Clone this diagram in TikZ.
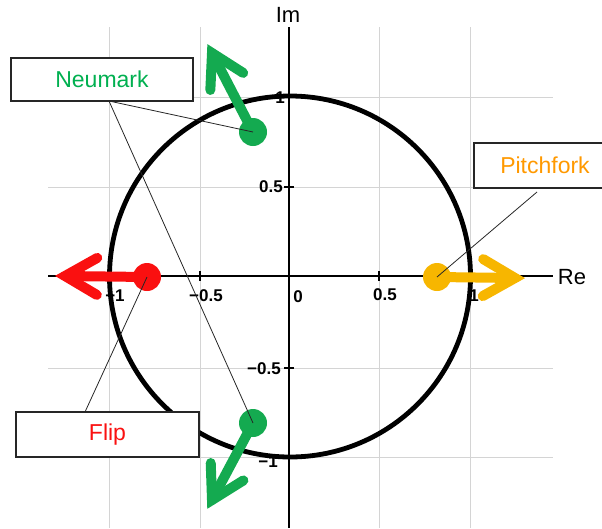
\documentclass[tikz,border=0pt]{standalone}
\usepackage{fontspec}
\setmainfont{Liberation Sans}
\usetikzlibrary{calc}
\definecolor{cred}{RGB}{250,16,16}
\definecolor{cyel}{RGB}{247,182,0}
\definecolor{cgrn}{RGB}{20,170,80}
\definecolor{tgrn}{RGB}{0,176,80}
\definecolor{torg}{RGB}{255,153,0}
\begin{document}
\begin{tikzpicture}[x=1pt,y=-1pt,
  gridline/.style={draw=black!17, line width=1pt},
  axisline/.style={draw=black, line width=1.5pt},
  tickmark/.style={draw=black, line width=1.2pt},
  ticklab/.style={font=\fontsize{17}{17}\selectfont\bfseries, inner sep=0pt},
  axlab/.style={font=\fontsize{22}{22}\selectfont, inner sep=0pt},
  callbox/.style={draw=black!85, line width=1.3pt, fill=white, font=\fontsize{23}{23}\selectfont, inner sep=0pt},
  dot/.style={circle, fill=#1, minimum size=28pt, inner sep=0pt},
  shaft/.style={draw=#1, line width=10pt, line cap=round},
  barb/.style={draw=#1, line width=10pt, line cap=round, line join=miter},
  leader/.style={draw=black!85, line width=0.8pt}]
\useasboundingbox (0,0) rectangle (602,528);
% grid
\foreach \gx in {109,200,379,470} \draw[gridline] (\gx,27) -- (\gx,528);
\foreach \gy in {97,187,368,457} \draw[gridline] (48,\gy) -- (553,\gy);
% axes
\draw[axisline] (48,276) -- (553,276);
\draw[axisline] (289,27) -- (289,528);
\foreach \gx in {110,200,379,470} \draw[tickmark] (\gx,271) -- (\gx,281);
\foreach \gy in {97,187,368,457} \draw[tickmark] (284,\gy) -- (294,\gy);
\node[axlab] (im) at (288,15) {Im};
\node[axlab] (re) at (572,277) {Re};
% tick labels
\node[ticklab] (xm1) at (115,296) {−1};
\node[ticklab] (xm05) at (206,296) {−0.5};
\node[ticklab] (x0) at (298,297) {0};
\node[ticklab] (x05) at (385,295) {0.5};
\node[ticklab] (x1) at (474,296) {1};
\node[ticklab, anchor=east] (y1) at (285,98) {1};
\node[ticklab, anchor=east] (y05) at (283,187) {0.5};
\node[ticklab, anchor=east] (ym05) at (281,369) {−0.5};
\node[ticklab, anchor=east] (ym1) at (278,462) {−1};
% unit circle
\draw[black, line width=4.8pt] (290,276.5) circle[radius=180.5];
% dots
\node[dot=cred] (rdot) at (147,277) {};
\node[dot=cyel] (ydot) at (437,277) {};
\node[dot=cgrn] (gup) at (253,132) {};
\node[dot=cgrn] (gdn) at (253,423) {};
\coordinate (rv) at (65,276);
\coordinate (yv) at (515,278);
\coordinate (guv) at (212,53);
\coordinate (gdv) at (212,500);
% arrows
\draw[shaft=cred] (rdot.center) -- (rv);
\draw[barb=cred] ($(rv)!37pt!30:(rdot.center)$) -- (rv) -- ($(rv)!37pt!-30:(rdot.center)$);
\draw[shaft=cyel] (ydot.center) -- (yv);
\draw[barb=cyel] ($(yv)!37pt!30:(ydot.center)$) -- (yv) -- ($(yv)!37pt!-30:(ydot.center)$);
\draw[shaft=cgrn] (gup.center) -- (guv);
\draw[barb=cgrn] ($(guv)!37pt!30:(gup.center)$) -- (guv) -- ($(guv)!37pt!-30:(gup.center)$);
\draw[shaft=cgrn] (gdn.center) -- (gdv);
\draw[barb=cgrn] ($(gdv)!37pt!30:(gdn.center)$) -- (gdv) -- ($(gdv)!37pt!-30:(gdn.center)$);
% callout boxes
\node[callbox, minimum width=182pt, minimum height=43pt, text=tgrn] (nbox) at (102,79.5) {Neumark};
\node[callbox, minimum width=183pt, minimum height=45pt, text=cred] (fbox) at (107.5,434.5) {Flip};
\node[callbox, minimum width=142pt, minimum height=45pt, text=torg] (pbox) at (545,165.5) {Pitchfork};
% leaders
\coordinate (nl) at (109,101);
\coordinate (fl) at (85,412);
\coordinate (pl) at (537,192);
\draw[leader] (nl) -- (gup.center);
\draw[leader] (nl) -- (gdn.center);
\draw[leader] (fl) -- (rdot.center);
\draw[leader] (pl) -- (ydot.center);
\end{tikzpicture}
\end{document}
